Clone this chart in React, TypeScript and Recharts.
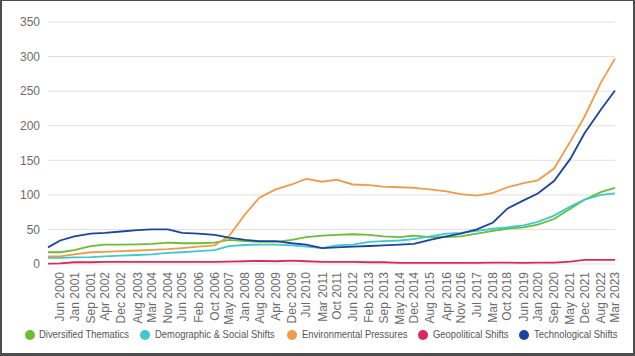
import { CartesianGrid, Line, LineChart, XAxis, YAxis } from 'recharts'

const MONTHS = ['Jan', 'Feb', 'Mar', 'Apr', 'May', 'Jun', 'Jul', 'Aug', 'Sep', 'Oct', 'Nov', 'Dec']

// first entry is the series start, the rest are the axis labels
const periods = [
  'Dec 1999', 'Jun 2000', 'Jan 2001', 'Sep 2001', 'Apr 2002', 'Dec 2002', 'Aug 2003', 'Mar 2004',
  'Nov 2004', 'Jun 2005', 'Feb 2006', 'Oct 2006', 'May 2007', 'Jan 2008', 'Aug 2008', 'Apr 2009',
  'Dec 2009', 'Jul 2010', 'Mar 2011', 'Oct 2011', 'Jun 2012', 'Feb 2013', 'Sep 2013', 'May 2014',
  'Dec 2014', 'Aug 2015', 'Apr 2016', 'Nov 2016', 'Jul 2017', 'Mar 2018', 'Oct 2018', 'Jun 2019',
  'Jan 2020', 'Sep 2020', 'May 2021', 'Dec 2021', 'Aug 2022', 'Mar 2023',
]

const diversified = [
  17, 17, 20, 26, 28, 28, 28.5, 29, 31, 30, 30, 31, 35, 33, 32, 32, 35, 39, 41, 42, 43, 42, 40, 39,
  41, 39, 39, 40, 44, 48, 51, 53, 57, 65, 80, 93, 104, 110,
]
const demographic = [
  9, 9, 9.5, 10, 11, 12, 13, 14, 16, 17, 18.5, 20, 26, 27.5, 28, 28, 27, 25, 23, 27, 28, 32, 33, 34,
  36, 40, 44, 45, 48, 51, 53, 56, 61, 70, 83, 93, 100, 102,
]
const environmental = [
  11, 11, 14, 17, 17.5, 18.5, 19.5, 20.5, 21.5, 23, 25, 27, 40, 72, 96, 108, 115, 123, 119, 122, 115,
  114, 112, 111, 110, 108, 105, 101, 99, 103, 111, 117, 121, 138, 177, 213, 262, 297,
]
const geopolitical = [
  0.5, 1, 2.5, 2.5, 3, 3, 3, 3, 3, 3, 3, 3, 3.5, 4, 4.5, 4, 5, 4, 3, 3, 3, 2.5, 2.5, 1.5, 1.5, 1.5,
  1.5, 1.5, 1.5, 2, 2, 1.5, 2, 2, 3.5, 6, 6, 6,
]
const technological = [
  24, 34, 40, 44, 45, 47, 49, 50, 50, 45, 44, 42, 38, 35, 33, 33, 30, 28, 23, 24, 25, 26, 27, 28, 29,
  35, 40, 44, 50, 60, 80, 92, 102, 120, 152, 189, 223, 251,
]

const yTicks = [0, 50, 100, 150, 200, 250, 300, 350]

const SERIES = [
  { key: 'diversified', name: 'Diversified Thematics', color: '#6abd35', values: diversified },
  { key: 'demographic', name: 'Demographic & Social Shifts', color: '#3ec9cf', values: demographic },
  { key: 'environmental', name: 'Environmental Pressures', color: '#f29a45', values: environmental },
  { key: 'geopolitical', name: 'Geopolitical Shifts', color: '#d92a5a', values: geopolitical },
  { key: 'technological', name: 'Technological Shifts', color: '#1a44a0', values: technological },
]

// legend marker centres, px from the left edge
const LEGEND_X = [29.5, 145, 292, 423, 524]

const toIndex = (p: string) => {
  const [m, y] = p.split(' ')
  return (Number(y) - 2000) * 12 + MONTHS.indexOf(m)
}

const data = periods.map((p, i) => {
  const row: Record<string, number | string> = { t: toIndex(p), label: p }
  SERIES.forEach((s) => {
    row[s.key] = s.values[i]
  })
  return row
})

const xTicks = periods.slice(1).map(toIndex)
const labelByIndex: Record<number, string> = {}
periods.forEach((p) => {
  labelByIndex[toIndex(p)] = p
})

const FONT = '"Liberation Sans", Arial, sans-serif'

const RotatedTick = ({ x, y, payload }: any) => (
  <g transform={`translate(${x},${y + 2})`}>
    <text
      transform="rotate(-90)"
      textAnchor="end"
      dy="0.35em"
      fill="#6b6b6b"
      fontSize={12}
      fontFamily={FONT}>
      {labelByIndex[payload.value]}
    </text>
  </g>
)

const LegendRow = () => (
  <div style={{ position: 'absolute', left: 0, top: 0, fontFamily: FONT, fontSize: 11.5, color: '#555' }}>
    {SERIES.map((s, i) => (
      <div key={s.key}>
        <span
          style={{
            position: 'absolute',
            left: LEGEND_X[i] - 5,
            top: 329.5,
            width: 10,
            height: 10,
            borderRadius: 5,
            background: s.color,
          }}
        />
        <span
          style={{
            position: 'absolute',
            left: LEGEND_X[i] + 9.5,
            top: 327,
            whiteSpace: 'nowrap',
            transform: 'scaleX(0.82)',
            transformOrigin: 'left center',
            lineHeight: '15px',
          }}>
          {s.name}
        </span>
      </div>
    ))}
  </div>
)

export default function App() {
  return (
    <div
      style={{
        position: 'absolute',
        left: 0,
        top: 0,
        width: 635,
        height: 356,
        background: '#fff',
        overflow: 'hidden',
      }}>
      <LineChart
        width={635}
        height={356}
        data={data}
        margin={{ top: 22, right: 20, bottom: 0, left: 0 }}>
        <CartesianGrid vertical={false} stroke="#e0e0e0" />
        <XAxis
          dataKey="t"
          type="number"
          domain={[-1, 278]}
          ticks={xTicks}
          interval={0}
          axisLine={false}
          tickLine={false}
          tickMargin={0}
          height={92}
          tick={<RotatedTick />}
        />
        <YAxis
          domain={[0, 350]}
          ticks={yTicks}
          width={48}
          axisLine={false}
          tickLine={false}
          tick={{ fill: '#6b6b6b', fontSize: 12, fontFamily: FONT }}
        />
        {SERIES.map((s) => (
          <Line
            key={s.key}
            dataKey={s.key}
            name={s.name}
            stroke={s.color}
            strokeWidth={1.8}
            dot={false}
            type="linear"
            isAnimationActive={false}
          />
        ))}
      </LineChart>
      <LegendRow />
      <div
        style={{
          position: 'absolute',
          inset: 0,
          borderStyle: 'solid',
          borderColor: '#4d4d4d',
          borderWidth: '1px 2px 3px 2px',
          pointerEvents: 'none',
        }}
      />
    </div>
  )
}
